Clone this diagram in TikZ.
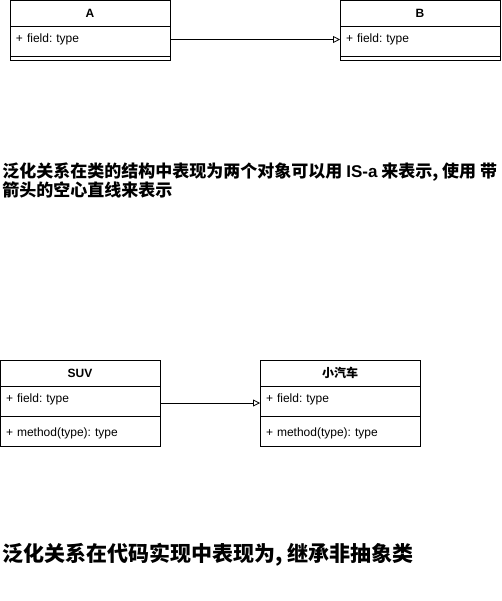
\documentclass[tikz,border=0pt]{standalone}
\usepackage{fontspec}
\setmainfont{Liberation Sans}
\newfontfamily\cjk{Noto Sans CJK SC}
\usetikzlibrary{arrows.meta}
\tikzset{
  classhdr/.style={minimum width=160pt,minimum height=26pt,inner sep=0pt,outer sep=0pt,font=\fontsize{12}{14}\selectfont\bfseries},
  classrow/.style={minimum height=26pt,text width=148pt,inner xsep=6pt,inner ysep=0pt,outer sep=0pt,align=left,font=\fontsize{12}{14}\selectfont},
  classgap/.style={minimum width=160pt,minimum height=8pt,inner sep=0pt,outer sep=0pt},
  gen/.style={-{Triangle[open,length=7pt,width=7pt]},line width=0.8pt},
  note/.style={anchor=west,align=left,inner sep=0pt}
}
\begin{document}
\frenchspacing
\begin{tikzpicture}[x=1pt,y=-1pt,line width=0.8pt]
\useasboundingbox (0,0) rectangle (501,601);
% A
\node[classhdr] (A) at (90,13.5) {A};
\node[classrow,anchor=north] (Af) at (A.south) {+ field: type};
\node[classgap,anchor=north] (Ag) at (Af.south) {};
\draw (A.north west) rectangle (Ag.south east);
\draw (A.south west) -- (A.south east);
\draw (Ag.west) -- (Ag.east);
% B
\node[classhdr] (B) at (420,13.5) {B};
\node[classrow,anchor=north] (Bf) at (B.south) {+ field: type};
\node[classgap,anchor=north] (Bg) at (Bf.south) {};
\draw (B.north west) rectangle (Bg.south east);
\draw (B.south west) -- (B.south east);
\draw (Bg.west) -- (Bg.east);
\draw[gen] (Af.east) -- (Bf.west);
% note 1
\node[note,font=\cjk\bfseries\fontsize{17}{19.5}\selectfont] (n1) at (2,180.5) {泛化关系在类的结构中表现为两个对象可以用 {\rmfamily\bfseries IS-a} 来表示, 使用 带\\箭头的空心直线来表示};
% SUV
\node[classhdr] (S) at (80,373) {SUV};
\node[classrow,anchor=north] (Sf) at (S.south) {+ field: type};
\node[classgap,anchor=north] (Sg) at (Sf.south) {};
\node[classrow,anchor=north] (Sm) at (Sg.south) {+ method(type): type};
\draw (S.north west) rectangle (Sm.south east);
\draw (S.south west) -- (S.south east);
\draw (Sg.west) -- (Sg.east);
% car
\node[classhdr,font=\cjk\bfseries\fontsize{12}{14}\selectfont] (C) at (340,373) {小汽车};
\node[classrow,anchor=north] (Cf) at (C.south) {+ field: type};
\node[classgap,anchor=north] (Cg) at (Cf.south) {};
\node[classrow,anchor=north] (Cm) at (Cg.south) {+ method(type): type};
\draw (C.north west) rectangle (Cm.south east);
\draw (C.south west) -- (C.south east);
\draw (Cg.west) -- (Cg.east);
\draw[gen] ([yshift=-4pt]Sf.east) -- ([yshift=-4pt]Cf.west);
% note 2
\node[note,font=\cjk\bfseries\fontsize{21}{24}\selectfont] (n2) at (2,555) {泛化关系在代码实现中表现为, 继承非抽象类};
\end{tikzpicture}
\end{document}
